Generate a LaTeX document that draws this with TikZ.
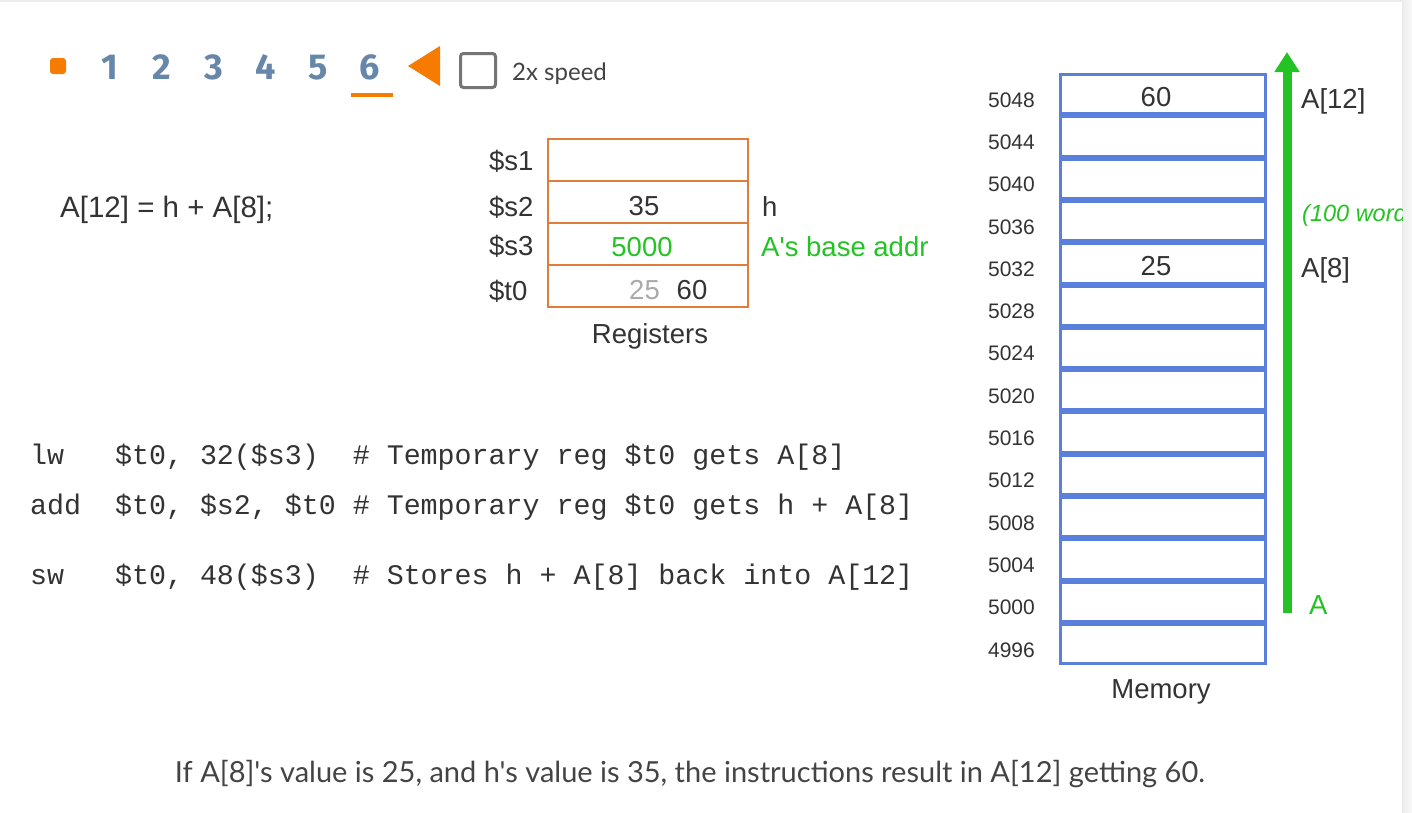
\documentclass[tikz,border=0pt]{standalone}
\usepackage{fontspec}
\setmainfont{Liberation Sans}
\newfontfamily\codefont{Liberation Mono}
\newfontfamily\uifont{Lato}
\newfontfamily\numfont{Fira Sans}
\usetikzlibrary{arrows.meta}
\definecolor{txt}{HTML}{333333}
\definecolor{regor}{HTML}{E07C3C}
\definecolor{memblue}{HTML}{5B80DB}
\definecolor{grn}{HTML}{22C322}
\definecolor{uiorange}{HTML}{F57C00}
\definecolor{navnum}{HTML}{6787AA}
\definecolor{chk}{HTML}{757575}
\definecolor{faded}{HTML}{AAAAAA}
\definecolor{captxt}{HTML}{444444}
\definecolor{edgegrey}{HTML}{ECECEC}
\definecolor{edgelight}{HTML}{F9F9F9}
\begin{document}
\begin{tikzpicture}[x=1pt,y=-1pt,
  lbl/.style={font=\fontsize{27.5}{33}\selectfont, text=txt, inner sep=0},
  memlbl/.style={font=\fontsize{21}{25}\selectfont, text=txt, inner sep=0, anchor=base east},
  codeline/.style={font=\codefont\fontsize{28.3}{32}\selectfont, text=txt, inner sep=0, anchor=base west},
  navnumber/.style={font=\numfont\bfseries\fontsize{36}{40}\selectfont, text=navnum, inner sep=0, anchor=base},
  regcell/.style={draw=regor, line width=2},
  memcell/.style={draw=memblue, line width=3},
  grntxt/.style={lbl, text=grn}
]
\useasboundingbox (0,0) rectangle (1412,812);
\fill[white] (0,0) rectangle (1412,812);
% frame edges
\fill[edgegrey] (0,0) rectangle (1412,2);
\shade[left color=edgegrey, right color=edgelight] (1402,0) rectangle (1412,812);

% ---- top control bar ----
\fill[uiorange, rounded corners=3] (50,58) rectangle (66,74);
\foreach \n [count=\i from 0] in {1,2,3,4,5,6} {
  \node[navnumber] (nav\n) at (110+52*\i, 79) {\n};
}
\fill[uiorange] (351,93) rectangle (393,97);
\fill[uiorange] (408,66) -- (440,46) -- (440,86) -- cycle;
\draw[chk, line width=3, rounded corners=3] (460.5,53.5) rectangle (495.5,87.5);
\node[font=\uifont\fontsize{24}{28}\selectfont, text=captxt, inner sep=0, anchor=base west] (speed) at (512,80) {2x speed};

% ---- statement ----
\node[lbl, font=\fontsize{29.5}{34}\selectfont, anchor=base west] (stmt) at (60,217) {A[12] = h + A[8];};

% ---- registers ----
\foreach \r/\t in {0/139,1/181,2/223,3/265} {
  \draw[regcell] (548,\t) rectangle (748,\t+42);
  \coordinate (reg\r) at (648,\t+21);
}
\node[lbl, anchor=base west] (ls1) at (489,170) {\$s1};
\node[lbl, anchor=base west] (ls2) at (489,216) {\$s2};
\node[lbl, anchor=base west] (ls3) at (489,255) {\$s3};
\node[lbl, anchor=base west] (lt0) at (489,300) {\$t0};
\node[lbl, anchor=base] (v35) at (644,215) {35};
\node[grntxt, anchor=base] (v5000) at (642,256) {5000};
\node[lbl, anchor=base, text=faded] (v25) at (644.5,299) {25};
\node[lbl, anchor=base] (v60) at (692,299) {60};
\node[lbl, anchor=base west] (hlbl) at (762,216) {h};
\node[grntxt, anchor=base west] (baselbl) at (761,256) {A\textquotesingle s base addr};
\node[lbl, anchor=base] (regtitle) at (650,343) {Registers};

% ---- code ----
\node[codeline] (c1) at (30,464) {lw\ \ \ \$t0,\ 32(\$s3)\ \ \#\ Temporary reg \$t0 gets A[8]};
\node[codeline] (c2) at (30,514) {add\ \ \$t0,\ \$s2,\ \$t0\ \#\ Temporary reg \$t0 gets h + A[8]};
\node[codeline] (c3) at (30,584) {sw\ \ \ \$t0,\ 48(\$s3)\ \ \#\ Stores h + A[8] back into A[12]};

% ---- memory ----
\foreach \i in {0,...,13} {
  \pgfmathsetmacro{\top}{73+42.3*\i}
  \pgfmathsetmacro{\ctr}{\top+21.15}
  \pgfmathtruncatemacro{\addr}{5048-4*\i}
  \draw[memcell] (1060.5,\top+1.5) rectangle (1265.5,\top+40.8);
  \coordinate (mem\i) at (1163,\ctr);
  \node[memlbl] (addr\i) at (1035,\ctr+13) {\addr};
}
\node[lbl, anchor=base] (m60) at (1156,106) {60};
\node[lbl, anchor=base] (m25) at (1156,275) {25};
\node[lbl, anchor=base] (memtitle) at (1161,698) {Memory};

% ---- array arrow ----
\coordinate (abot) at (1287,613);
\coordinate (atop) at (1287,52);
\draw[grn, line width=9, -{Triangle[width=24pt,length=20pt]}] (abot) -- (atop);
\node[lbl, anchor=base west] (a12) at (1301,108) {A[12]};
\node[lbl, anchor=base west] (a8) at (1301,277) {A[8]};
\node[grntxt, anchor=base west] (alab) at (1309,614) {A};
\begin{scope}
  \clip (1290,150) rectangle (1402,260);
  \node[grntxt, font=\itshape\fontsize{23.5}{28}\selectfont, anchor=base west] (words) at (1302,221) {(100 words)};
\end{scope}

% ---- caption ----
\node[font=\uifont\fontsize{29}{33}\selectfont, text=captxt, inner sep=0, anchor=base] (caption) at (690,782) {If A[8]'s value is 25, and h's value is 35, the instructions result in A[12] getting 60.};
\end{tikzpicture}
\end{document}
